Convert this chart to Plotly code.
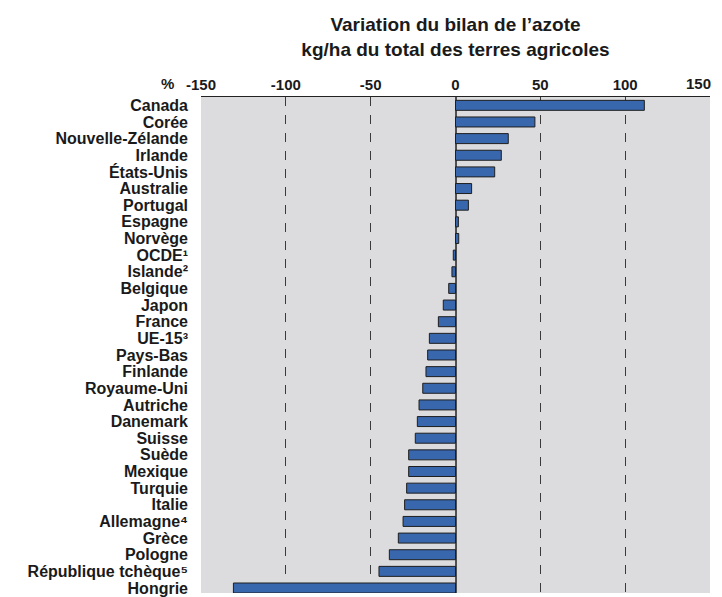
import plotly.graph_objects as go

countries = ["Canada", "Corée", "Nouvelle-Zélande", "Irlande", "États-Unis", "Australie",
             "Portugal", "Espagne", "Norvège", "OCDE¹", "Islande²",
             "Belgique", "Japon", "France", "UE-15³", "Pays-Bas", "Finlande",
             "Royaume-Uni", "Autriche", "Danemark", "Suisse", "Suède", "Mexique", "Turquie",
             "Italie", "Allemagne⁴", "Grèce", "Pologne",
             "République tchèque⁵", "Hongrie"]
values = [111.3, 46.8, 31.1, 27.0, 23.1, 9.5, 7.6, 1.7, 1.9, -1.3, -2.1, -4.0, -7.2, -10.1,
          -15.4, -16.4, -17.4, -19.3, -21.5, -22.5, -23.7, -27.6, -27.6, -28.8, -30.0, -30.9,
          -33.7, -39.0, -45.1, -130.9]
x_ticks = [-150, -100, -50, 0, 50, 100, 150]
title_lines = ["Variation du bilan de l’azote", "kg/ha du total des terres agricoles"]

FONT = "Liberation Sans, Arial, DejaVu Sans, sans-serif"
TXT = dict(family=FONT, size=15, color="#1a1a1a", weight="bold")

fig = go.Figure(go.Bar(
    x=values, y=countries, orientation="h",
    marker=dict(color="#3967ae", line=dict(color="#1e1e1e", width=1)),
))

# tick labels: all but the last come from the axis; the last one is right-anchored
# so that it stays inside the page
annots = [dict(text="%", xref="paper", yref="paper", x=-0.065, y=1.028,
               showarrow=False, xanchor="center", yanchor="middle", font=TXT),
          dict(text=str(x_ticks[-1]), xref="x", yref="paper", x=x_ticks[-1], y=1.028,
               showarrow=False, xanchor="right", xshift=3, yanchor="middle", font=TXT)]

fig.update_layout(
    width=714, height=589,
    margin=dict(l=193, r=12, t=89, b=0),
    paper_bgcolor="white", plot_bgcolor="#dcdcde",
    showlegend=False, bargap=0.4,
    font=dict(family=FONT, size=16, color="#1a1a1a", weight="bold"),
    title=dict(text="<br>".join(title_lines), x=0.5, xref="paper", xanchor="center",
               y=1 - 23 / 589, yanchor="middle",
               font=dict(family=FONT, size=19, color="#1a1a1a", weight="bold")),
    annotations=annots,
)
fig.update_xaxes(
    side="top", range=[-150, 150], tickvals=x_ticks,
    ticktext=[str(v) for v in x_ticks[:-1]] + [""],
    showgrid=True, gridcolor="#3a3a3a", griddash="dash", gridwidth=1,
    zeroline=True, zerolinecolor="#505050", zerolinewidth=2,
    showline=True, linecolor="#222", linewidth=1, ticks="", fixedrange=True,
    tickfont=TXT,
)
fig.update_yaxes(
    type="category", categoryorder="array", categoryarray=countries,
    tickmode="array", tickvals=countries, ticktext=countries,
    range=[29.3, -0.5], showgrid=False, zeroline=False, ticks="",
    ticklabelstandoff=12, showline=False,
    tickfont=dict(family=FONT, size=16, color="#1a1a1a", weight="bold"),
)

fig.write_html("out.html")
